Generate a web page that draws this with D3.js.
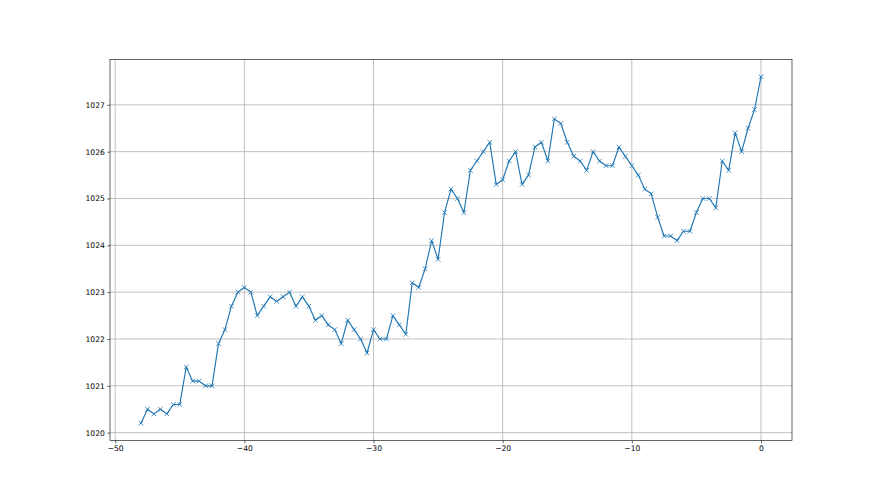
<!DOCTYPE html>
<html>
<head>
<meta charset="utf-8">
<script src="https://cdn.jsdelivr.net/npm/d3@7"></script>
<style>
  html, body { margin: 0; padding: 0; background: #fff; }
  svg { display: block; }
  .tick text { font-family: "DejaVu Sans", sans-serif; font-size: 7.6px; fill: #000; }
</style>
</head>
<body>
<svg id="chart" width="880" height="495"></svg>
<script>
// Hours relative to now (step 0.5 h), pressure values (hPa)
const hours = d3.range(-48, 0.001, 0.5);
const pressure = [
  1020.2, 1020.5, 1020.4, 1020.5, 1020.4, 1020.6, 1020.6, 1021.4, 1021.1, 1021.1,
  1021.0, 1021.0, 1021.9, 1022.2, 1022.7, 1023.0, 1023.1, 1023.0, 1022.5, 1022.7,
  1022.9, 1022.8, 1022.9, 1023.0, 1022.7, 1022.9, 1022.7, 1022.4, 1022.5, 1022.3,
  1022.2, 1021.9, 1022.4, 1022.2, 1022.0, 1021.7, 1022.2, 1022.0, 1022.0, 1022.5,
  1022.3, 1022.1, 1023.2, 1023.1, 1023.5, 1024.1, 1023.7, 1024.7, 1025.2, 1025.0,
  1024.7, 1025.6, 1025.8, 1026.0, 1026.2, 1025.3, 1025.4, 1025.8, 1026.0, 1025.3,
  1025.5, 1026.1, 1026.2, 1025.8, 1026.7, 1026.6, 1026.2, 1025.9, 1025.8, 1025.6,
  1026.0, 1025.8, 1025.7, 1025.7, 1026.1, 1025.9, 1025.7, 1025.5, 1025.2, 1025.1,
  1024.6, 1024.2, 1024.2, 1024.1, 1024.3, 1024.3, 1024.7, 1025.0, 1025.0, 1024.8,
  1025.8, 1025.6, 1026.4, 1026.0, 1026.5, 1026.9, 1027.6
];
const xTicks = [-50, -40, -30, -20, -10, 0];
const yTicks = [1020, 1021, 1022, 1023, 1024, 1025, 1026, 1027];

const data = hours.map((h, i) => ({ x: h, y: pressure[i] }));

const W = 880, H = 495;
const margin = { left: 110, right: 88, top: 59.4, bottom: 54.4 };
const pw = W - margin.left - margin.right;
const ph = H - margin.top - margin.bottom;

const [xmin, xmax] = d3.extent(hours);
const [ymin, ymax] = d3.extent(pressure);
const xpad = (xmax - xmin) * 0.05, ypad = (ymax - ymin) * 0.05;

const x = d3.scaleLinear().domain([xmin - xpad, xmax + xpad]).range([0, pw]);
const y = d3.scaleLinear().domain([ymin - ypad, ymax + ypad]).range([ph, 0]);

const svg = d3.select("#chart");
const g = svg.append("g").attr("transform", `translate(${margin.left},${margin.top})`);

// grid
g.append("g").selectAll("line.vx").data(xTicks).join("line")
  .attr("x1", d => x(d)).attr("x2", d => x(d)).attr("y1", 0).attr("y2", ph)
  .attr("stroke", "#b0b0b0").attr("stroke-width", 0.8);
g.append("g").selectAll("line.hy").data(yTicks).join("line")
  .attr("x1", 0).attr("x2", pw).attr("y1", d => y(d)).attr("y2", d => y(d))
  .attr("stroke", "#b0b0b0").attr("stroke-width", 0.8);

// line
const color = "#1f77b4";
g.append("path").datum(data)
  .attr("fill", "none").attr("stroke", color).attr("stroke-width", 1.15)
  .attr("stroke-linejoin", "round").attr("stroke-linecap", "square")
  .attr("d", d3.line().x(d => x(d.x)).y(d => y(d.y)));

// x markers
const ms = 2.3;
g.append("g").selectAll("path.m").data(data).join("path")
  .attr("fill", "none").attr("stroke", color).attr("stroke-width", 0.8)
  .attr("d", d => {
    const cx = x(d.x), cy = y(d.y);
    return `M${cx - ms},${cy - ms}L${cx + ms},${cy + ms}M${cx - ms},${cy + ms}L${cx + ms},${cy - ms}`;
  });

// axes
const xAxis = d3.axisBottom(x).tickValues(xTicks).tickSize(2.7).tickPadding(2.5).tickFormat(d => d < 0 ? "\u2212" + Math.abs(d) : d);
const yAxis = d3.axisLeft(y).tickValues(yTicks).tickSize(2.7).tickPadding(2.5).tickFormat(d3.format("d"));
const gx = g.append("g").attr("transform", `translate(0,${ph})`).call(xAxis);
const gy = g.append("g").call(yAxis);
[gx, gy].forEach(a => {
  a.select(".domain").remove();
  a.selectAll(".tick line").attr("stroke", "#000").attr("stroke-width", 0.6);
});

// spines
g.append("rect").attr("x", 0).attr("y", 0).attr("width", pw).attr("height", ph)
  .attr("fill", "none").attr("stroke", "#000").attr("stroke-width", 0.6);
</script>
</body>
</html>
